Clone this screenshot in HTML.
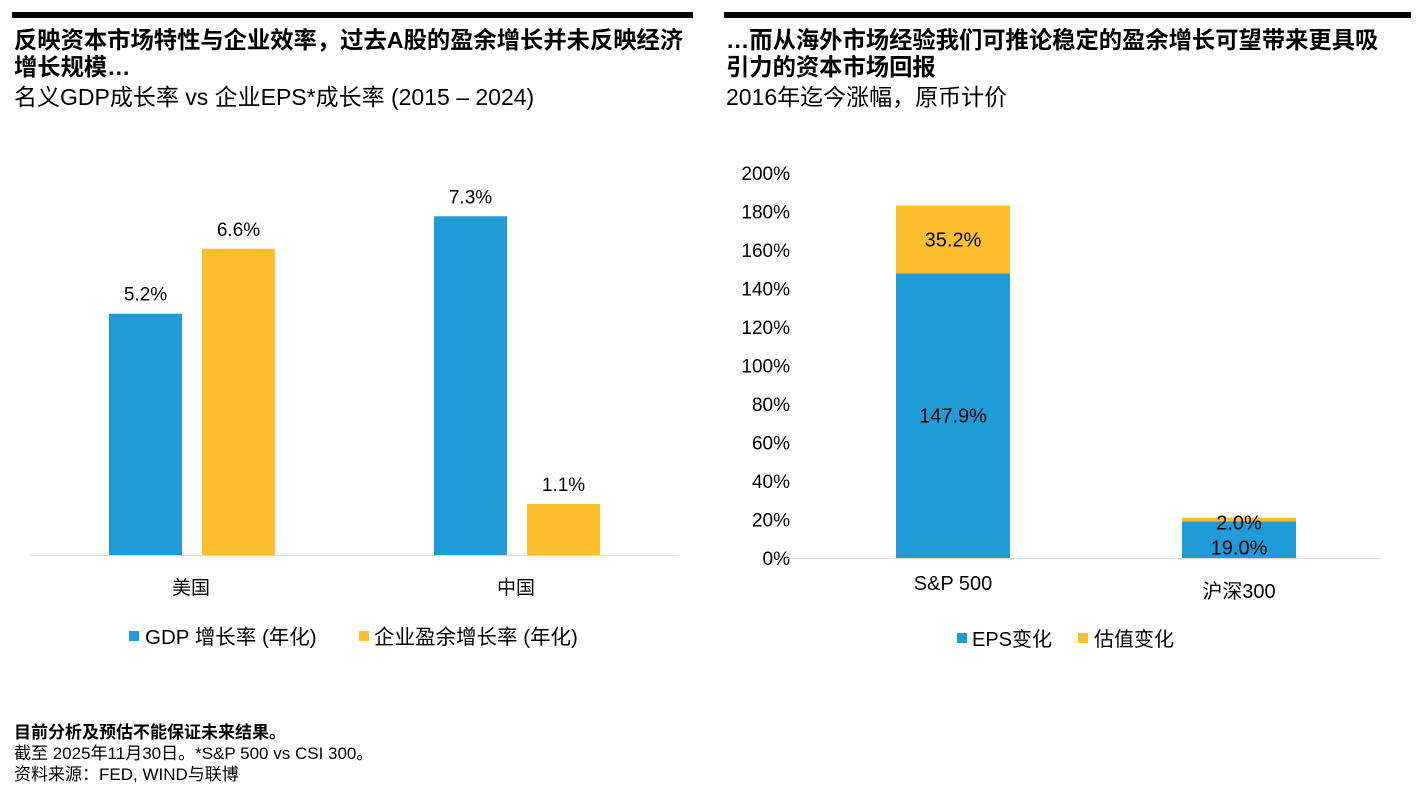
<!DOCTYPE html>
<html><head><meta charset="utf-8"><style>
body{margin:0;width:1423px;height:793px;background:#fff;font-family:"Liberation Sans","Noto Sans CJK SC",sans-serif;color:#000;position:relative;overflow:hidden}
.abs{position:absolute;white-space:nowrap}
.bar{position:absolute;height:6px;background:#000;top:12px}
.t{font-size:23.3px;font-weight:bold;line-height:27px}
.s{font-size:23px;line-height:27px}
.f{font-size:17px;line-height:21px;left:14px}
</style></head><body>
<div class="bar" style="left:12px;width:681px"></div>
<div class="bar" style="left:724px;width:687px"></div>
<div class="abs t" style="left:14px;top:27px">反映资本市场特性与企业效率，过去A股的盈余增长并未反映经济<br>增长规模…</div>
<div class="abs s" style="left:14px;top:84px">名义GDP成长率 vs 企业EPS*成长率 (2015 – 2024)</div>
<div class="abs t" style="left:726px;top:27px">…而从海外市场经验我们可推论稳定的盈余增长可望带来更具吸<br>引力的资本市场回报</div>
<div class="abs s" style="left:726px;top:84px">2016年迄今涨幅，原币计价</div>
<svg id="c" width="1423" height="793" style="position:absolute;left:0;top:0"></svg>
<div class="abs f" style="top:722px;font-weight:bold">目前分析及预估不能保证未来结果。</div>
<div class="abs f" style="top:743px">截至 2025年11月30日。*S&amp;P 500 vs CSI 300。</div>
<div class="abs f" style="top:764px">资料来源：FED, WIND与联博</div>
<script>
const leftCats=["美国","中国"];
const gdpVals=[5.2,7.3];
const epsVals=[6.6,1.1];
const rightCats=["S&P 500","沪深300"];
const epsChange=[147.9,19.0];
const valChange=[35.2,2.0];
const yTicks=[0,20,40,60,80,100,120,140,160,180,200];
const BLUE="#1F9BD7",YEL="#FDBF2D";
const svg=document.getElementById('c');
const NS="http://www.w3.org/2000/svg";
function mk(t,a,txt){const e=document.createElementNS(NS,t);for(const k in a)e.setAttribute(k,a[k]);if(txt!==undefined)e.textContent=txt;svg.appendChild(e);return e;}
const F='"Liberation Sans","Noto Sans CJK SC",sans-serif';
// left chart
const lBase=555,lScale=46.4;
const ly=v=>lBase-v*lScale;
let e=mk('line',{x1:30,x2:678,y1:lBase+0.5,y2:lBase+0.5,stroke:'#d9d9d9','stroke-width':1});

const lGroup=[191,516];
leftCats.forEach((c,i)=>{
  [[gdpVals[i],BLUE,-82],[epsVals[i],YEL,11]].forEach(([v,col,off],j)=>{
    const x=lGroup[i]+off;
    const r=mk('rect',{x:x,y:ly(v),width:73,height:v*lScale,fill:col});
    
    const t=mk('text',{x:x+36.5,y:ly(v)-13,'text-anchor':'middle','font-size':19,'font-family':F},v.toFixed(1)+'%');
    
  });
  const t=mk('text',{x:lGroup[i],y:594,'text-anchor':'middle','font-size':19,'font-family':F},c);
  
});
// left legend
e=mk('rect',{x:129,y:631,width:10,height:10,fill:BLUE});
e=mk('text',{x:145,y:644,'font-size':20.5,'font-family':F},'GDP 增长率 (年化)');
e=mk('rect',{x:359,y:631,width:10,height:10,fill:YEL});
e=mk('text',{x:374,y:644,'font-size':20.5,'font-family':F},'企业盈余增长率 (年化)');
// right chart
const rBase=558,rScale=1.925;
const ry=v=>rBase-v*rScale;
yTicks.forEach(v=>{
  const t=mk('text',{x:790,y:ry(v)+7,'text-anchor':'end','font-size':19,'font-family':F},v+'%');
  
});
e=mk('line',{x1:785,x2:1382,y1:rBase+0.5,y2:rBase+0.5,stroke:'#d9d9d9','stroke-width':1});

const rCenters=[953,1239];
rightCats.forEach((c,i)=>{
  const x=rCenters[i]-57,w=114;
  const a=epsChange[i],b=valChange[i];
  let r=mk('rect',{x:x,y:ry(a),width:w,height:a*rScale,fill:BLUE});
  
  r=mk('rect',{x:x,y:ry(a+b),width:w,height:b*rScale,fill:YEL});
  
  const cy1=(ry(0)+ry(a))/2+7, cy2=(ry(a)+ry(a+b))/2+7;
  let t=mk('text',{x:rCenters[i],y:i?cy1+8:cy1,'text-anchor':'middle','font-size':20,'font-family':F},a.toFixed(1)+'%');
  
  t=mk('text',{x:rCenters[i],y:i?cy2+3:cy2,'text-anchor':'middle','font-size':20,'font-family':F},b.toFixed(1)+'%');
  
  t=mk('text',{x:rCenters[i],y:i?598:590,'text-anchor':'middle','font-size':20,'font-family':F},c);
  
});
e=mk('rect',{x:957,y:633,width:10,height:10,fill:BLUE});
e=mk('text',{x:972,y:646,'font-size':20,'font-family':F},'EPS变化');
e=mk('rect',{x:1078,y:633,width:10,height:10,fill:YEL});
e=mk('text',{x:1094,y:646,'font-size':20,'font-family':F},'估值变化');
</script>
</body></html>
